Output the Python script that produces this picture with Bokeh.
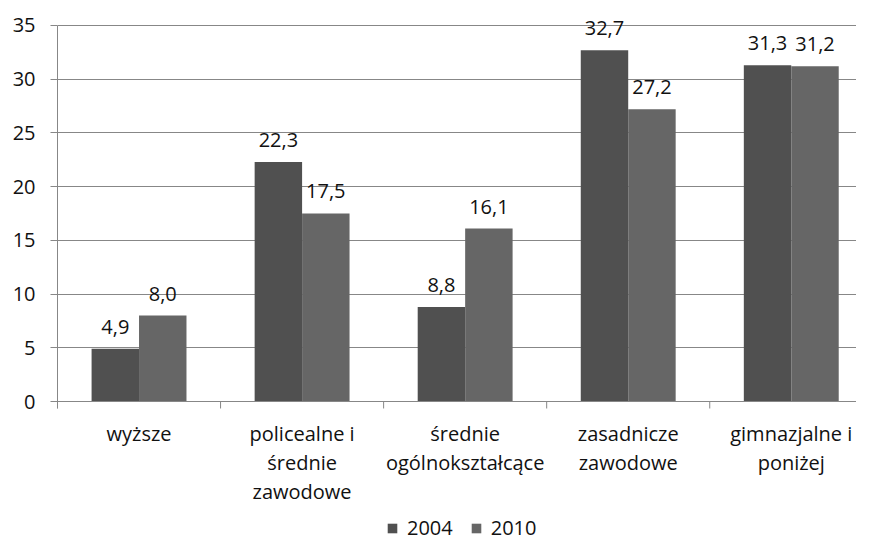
from bokeh.plotting import figure
from bokeh.models import ColumnDataSource, FixedTicker, Legend, LegendItem, Range1d, Span
from bokeh.transform import dodge
from bokeh.core.properties import value
from bokeh.embed import file_html
from bokeh.resources import INLINE

categories = ["wyższe", "policealne i\nśrednie\nzawodowe", "średnie\nogólnokształcące",
              "zasadnicze\nzawodowe", "gimnazjalne i\nponiżej"]
series_names = ["2004", "2010"]
values_2004 = [4.9, 22.3, 8.8, 32.7, 31.3]
values_2010 = [8.0, 17.5, 16.1, 27.2, 31.2]
y_ticks = [0, 5, 10, 15, 20, 25, 30, 35]

FONT = "Open Sans"
C2004 = "#505050"
C2010 = "#666666"
GRID = "#878787"
TXT = "#111111"
FS = "20px"

pos = [i + 0.5 for i in range(len(categories))]
src = ColumnDataSource(dict(
    x=pos,
    cat=categories,
    zero=[0] * len(categories),
    v04=values_2004,
    v10=values_2010,
    t04=[f"{v:.1f}".replace(".", ",") for v in values_2004],
    t10=[f"{v:.1f}".replace(".", ",") for v in values_2010],
))
bounds_src = ColumnDataSource(dict(
    xb=list(range(len(categories) + 1)),
    y0=[0] * (len(categories) + 1),
    y1=[-0.65] * (len(categories) + 1),
))

# frame spans figure height 5..541; y=35 at 25px, y=0 at 401px -> 10.743 px per unit
p = figure(width=856, height=541, output_backend="svg", toolbar_location=None,
           x_range=Range1d(0, 4.9), y_range=Range1d(-13.03, 36.86))
p.min_border_left = 57
p.min_border_right = 0
p.min_border_top = 5
p.min_border_bottom = 0
p.outline_line_color = None

bw = 0.291
r1 = p.vbar(x=dodge("x", -bw / 2, range=p.x_range), top="v04", width=bw, source=src,
            fill_color=C2004, line_color=None)
r2 = p.vbar(x=dodge("x", bw / 2, range=p.x_range), top="v10", width=bw, source=src,
            fill_color=C2010, line_color=None)

p.text(x=dodge("x", -bw / 2, range=p.x_range), y="v04", text="t04", source=src,
       text_align="center", text_baseline="middle", y_offset=-22,
       text_font=value(FONT), text_font_size=FS, text_color=TXT)
p.text(x=dodge("x", bw / 2, range=p.x_range), y="v10", text="t10", source=src,
       text_align="center", text_baseline="middle", y_offset=-22,
       text_font=value(FONT), text_font_size=FS, text_color=TXT)

# category axis line, separators and labels
p.add_layout(Span(location=0, dimension="width", line_color=GRID, line_width=1))
p.segment(x0="xb", y0="y0", x1="xb", y1="y1", source=bounds_src, line_color=GRID, line_width=1)
p.text(x="x", y="zero", text="cat", source=src, text_align="center", text_baseline="top",
       y_offset=18, text_line_height=1.08,
       text_font=value(FONT), text_font_size=FS, text_color=TXT)

p.xaxis.visible = False
p.xgrid.grid_line_color = None

# y axis
ya = p.yaxis[0]
ya.ticker = FixedTicker(ticks=y_ticks)
ya.bounds = (-0.65, 35)
ya.minor_tick_line_color = None
ya.major_tick_out = 7
ya.major_tick_in = 0
ya.major_tick_line_color = GRID
ya.axis_line_color = GRID
ya.major_label_text_font = FONT
ya.major_label_text_font_size = FS
ya.major_label_text_color = TXT
ya.major_label_standoff = 15

p.ygrid.grid_line_color = GRID
p.ygrid.ticker = FixedTicker(ticks=y_ticks)

legend = Legend(items=[LegendItem(label=series_names[0], renderers=[r1]),
                       LegendItem(label=series_names[1], renderers=[r2])],
                orientation="horizontal", location=(329, 0),
                glyph_width=12, glyph_height=12, label_standoff=9, spacing=17,
                padding=0, margin=0, border_line_color=None, background_fill_alpha=0,
                label_text_font=FONT, label_text_font_size=FS, label_text_color=TXT)
p.add_layout(legend, "center")

open("out.html", "w").write(file_html(p, INLINE))
